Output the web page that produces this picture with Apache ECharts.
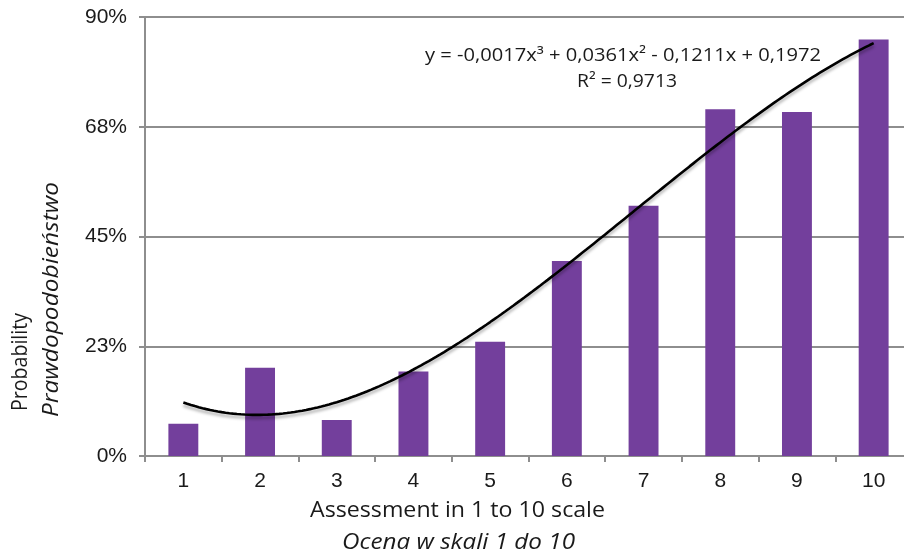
<!DOCTYPE html>
<html>
<head>
<meta charset="utf-8">
<script src="https://cdn.jsdelivr.net/npm/echarts@6/dist/echarts.min.js"></script>
<style>
  html, body { margin: 0; padding: 0; background: #ffffff; overflow: hidden; }
  #chart { width: 912px; height: 556px; }
</style>
</head>
<body>
<div id="chart"></div>
<script>
// Assessment scores on the 1–10 scale
const categories = ['1', '2', '3', '4', '5', '6', '7', '8', '9', '10'];
// Probability for each score (fraction of 1)
const probability = [0.066, 0.181, 0.074, 0.173, 0.234, 0.400, 0.513, 0.711, 0.705, 0.854];
// Y tick labels as printed (steps of 22.5 %, rounded)
const yTickLabels = ['0%', '23%', '45%', '68%', '90%'];
// Trendline annotation
const equationText = 'y = -0,0017x³ + 0,0361x² - 0,1211x + 0,1972';
const r2Text = 'R² = 0,9713';

// Least-squares cubic fit of the bar values (polynomial trendline)
function cubicFit(xs, ys) {
  const n = 4;
  const A = [];
  for (let i = 0; i < n; i++) {
    const row = [];
    for (let j = 0; j < n; j++) {
      let s = 0;
      xs.forEach(x => { s += Math.pow(x, i + j); });
      row.push(s);
    }
    let b = 0;
    xs.forEach((x, k) => { b += Math.pow(x, i) * ys[k]; });
    row.push(b);
    A.push(row);
  }
  for (let c = 0; c < n; c++) {
    let p = c;
    for (let r = c + 1; r < n; r++) if (Math.abs(A[r][c]) > Math.abs(A[p][c])) p = r;
    [A[c], A[p]] = [A[p], A[c]];
    for (let r = 0; r < n; r++) {
      if (r === c) continue;
      const f = A[r][c] / A[c][c];
      for (let k = c; k <= n; k++) A[r][k] -= f * A[c][k];
    }
  }
  return A.map((row, i) => row[n] / row[i]);
}

const xs = categories.map(Number);
const coef = cubicFit(xs, probability);
const trend = [];
for (let x = 1; x <= 10.0001; x += 0.05) {
  const y = coef[0] + coef[1] * x + coef[2] * x * x + coef[3] * x * x * x;
  trend.push([x, y]);
}

// Horizontal stretch so a caption spans the given length
const measureCtx = document.createElement('canvas').getContext('2d');
function stretchTo(text, font, length) {
  measureCtx.font = font;
  return length / measureCtx.measureText(text).width;
}

function caption(text, font, x, y, length, opts) {
  opts = opts || {};
  return {
    type: 'text',
    x: x, y: y,
    rotation: opts.rotation || 0,
    scaleX: stretchTo(text, font, length),
    style: {
      text: text, fill: '#1a1a1a', font: font,
      align: opts.align || 'center', verticalAlign: 'middle'
    }
  };
}

const chart = echarts.init(document.getElementById('chart'), null, { renderer: 'canvas' });
const axisGrey = '#8e8e8e';
const textColor = '#1a1a1a';

chart.setOption({
  backgroundColor: '#ffffff',
  animation: false,
  grid: { left: 145, top: 17, right: 0, bottom: 100, containLabel: false },
  xAxis: [
    {
      type: 'category',
      data: categories,
      boundaryGap: true,
      axisLine: { lineStyle: { color: axisGrey, width: 2 } },
      axisTick: { show: true, length: 6, lineStyle: { color: axisGrey, width: 2 } },
      axisLabel: { color: textColor, fontFamily: 'Liberation Sans', fontSize: 21, margin: 15 },
      splitLine: { show: false }
    },
    {
      type: 'value',
      min: 0.5,
      max: 10.5,
      show: false
    }
  ],
  yAxis: {
    type: 'value',
    min: 0,
    max: 0.9,
    interval: 0.225,
    axisLine: { show: true, lineStyle: { color: axisGrey, width: 2 } },
    axisTick: { show: true, length: 6, lineStyle: { color: axisGrey, width: 2 } },
    axisLabel: {
      color: textColor,
      fontFamily: 'Liberation Sans',
      fontSize: 21,
      margin: 18,
      formatter: v => yTickLabels[Math.round(v / 0.225)]
    },
    splitLine: { show: true, lineStyle: { color: axisGrey, width: 2 } }
  },
  series: [
    {
      type: 'bar',
      data: probability,
      xAxisIndex: 0,
      barWidth: '39%',
      itemStyle: { color: '#733f9c' },
      z: 2
    },
    {
      type: 'line',
      data: trend,
      xAxisIndex: 1,
      showSymbol: false,
      lineStyle: {
        color: '#000000',
        width: 2.6,
        shadowColor: 'rgba(0,0,0,0.3)',
        shadowBlur: 3,
        shadowOffsetY: 3
      },
      z: 3
    }
  ],
  graphic: [
    caption(equationText, '18px "Open Sans"', 623, 56, 396),
    caption(r2Text, '18px "Open Sans"', 627, 82, 100),
    caption('Assessment in 1 to 10 scale', '22px "Open Sans"', 457.5, 511, 295),
    caption('Ocena w skali 1 do 10', 'italic 22px "Open Sans"', 458.5, 543, 233),
    caption('Probability', '22px "Open Sans"', 21, 411, 98, { rotation: Math.PI / 2, align: 'left' }),
    caption('Prawdopodobieństwo', 'italic 22px "Open Sans"', 52, 417, 235, { rotation: Math.PI / 2, align: 'left' })
  ]
});
</script>
</body>
</html>
